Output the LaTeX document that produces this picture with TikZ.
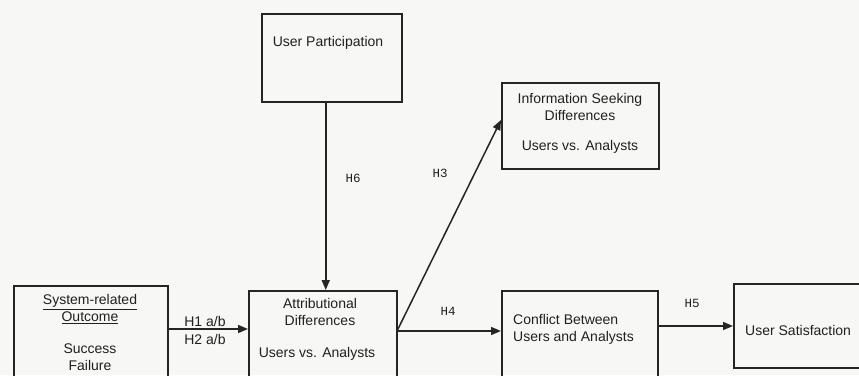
\documentclass[tikz,border=0pt]{standalone}
\usepackage{fontspec}
\setmainfont{Liberation Sans}
\newfontfamily\monof{Liberation Mono}
\usetikzlibrary{arrows.meta}
\definecolor{ink}{HTML}{252525}
\definecolor{txt}{HTML}{202020}
\definecolor{bg}{HTML}{F7F7F5}
\begin{document}
\begin{tikzpicture}[x=1pt,y=-1pt,
 box/.style={draw=ink,line width=1.5pt,anchor=north west,inner sep=0pt},
 lbl/.style={text=txt,font=\fontsize{14}{17}\selectfont,inner sep=0pt,align=center},
 hyp/.style={text=txt,font=\monof\fontsize{12.5}{14}\selectfont,inner sep=0pt},
 arr/.style={draw=ink,line width=1.5pt,-{Triangle[length=10pt,width=8pt]}}]
\clip (0,0) rectangle (859,375);
\fill[bg] (0,0) rectangle (859,375);
% boxes
\node[box,minimum width=140pt,minimum height=88pt] (up) at (261,13) {};
\node[box,minimum width=148pt,minimum height=100pt] (attr) at (248,290) {};
\node[box,minimum width=154pt,minimum height=105pt] (sr) at (13,285) {};
\node[box,minimum width=156pt,minimum height=100pt] (conf) at (501,290) {};
\node[box,minimum width=150pt,minimum height=84pt] (us) at (733,283) {};
\node[box,minimum width=157pt,minimum height=86pt] (info) at (501,82) {};
% texts
\node[lbl] (upt) at (328,43) {User Participation};
\node[lbl] (attrt) at (320,311.5) {Attributional\\Differences};
\node[lbl] (attru) at (317,354) {Users vs. Analysts};
\node[lbl] (srt) at (90,309) {\underline{System-related}\\\underline{Outcome}};
\node[lbl] (srs) at (90,357.5) {Success\\Failure};
\node[lbl,align=left,anchor=west] (conft) at (513,329) {Conflict Between\\Users and Analysts};
\node[lbl,anchor=west] (ust) at (745,330) {User Satisfaction};
\node[lbl] (infot) at (580,107) {Information Seeking\\Differences};
\node[lbl] (infou) at (580,147) {Users vs. Analysts};
% connectors
\draw[arr] ([yshift=-44pt]sr.north east) -- ([yshift=-39pt]attr.north west);
\draw[arr] ([xshift=-6pt]up.south) -- ([xshift=3pt]attr.north);
\draw[arr] ([yshift=-41pt]attr.north east) -- ([yshift=-41pt]conf.north west);
\draw[arr] ([yshift=-40pt]attr.north east) -- ([yshift=-38pt]info.north west);
\draw[arr] ([yshift=-36pt]conf.north east) -- ([yshift=-43pt]us.north west);
% labels
\node[lbl] (h1) at (205,321) {H1 a/b};
\node[lbl] (h2) at (205,339) {H2 a/b};
\node[hyp] (h6) at (353,178) {H6};
\node[hyp] (h3) at (440,173) {H3};
\node[hyp] (h4) at (448,311) {H4};
\node[hyp] (h5) at (692,303) {H5};
\end{tikzpicture}
\end{document}
